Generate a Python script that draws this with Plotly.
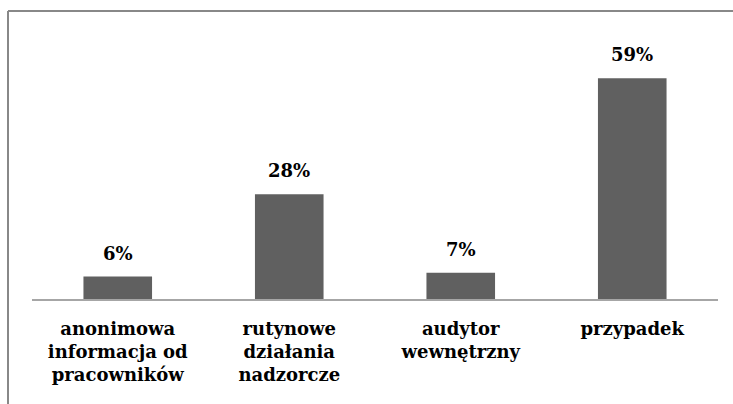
import plotly.graph_objects as go

categories = ["anonimowa<br>informacja od<br>pracowników", "rutynowe<br>działania<br>nadzorcze",
              "audytor<br>wewnętrzny", "przypadek"]
values = [6, 28, 7, 59]
value_labels = ["6%", "28%", "7%", "59%"]

W, H = 733, 404
L, R, T, B = 32, 15, 37, 105
FONT = "DejaVu Serif"

fig = go.Figure()
fig.add_trace(go.Bar(x=categories, y=values, marker=dict(color="#606060", line=dict(width=0)),
                     hoverinfo="skip"))

for c, v, t in zip(categories, values, value_labels):
    fig.add_annotation(x=c, y=v, text=f"<b>{t}</b>", showarrow=False, yanchor="bottom",
                       yshift=11, font=dict(family=FONT, size=18, color="#000000"))

pw = W - L - R
ph = H - T - B
# outer border (left and top)
fig.add_shape(type="line", xref="paper", yref="paper",
              x0=(8 - L) / pw, x1=(W + 5 - L) / pw, y0=(H - B - 11) / ph, y1=(H - B - 11) / ph,
              line=dict(color="#888888", width=2))
fig.add_shape(type="line", xref="paper", yref="paper",
              x0=(8 - L) / pw, x1=(8 - L) / pw, y0=(H - B - 11) / ph, y1=-(B + 5) / ph,
              line=dict(color="#888888", width=2))

fig.update_layout(
    width=W, height=H, margin=dict(l=L, r=R, t=T, b=B),
    paper_bgcolor="white", plot_bgcolor="white",
    bargap=0.6, showlegend=False,
    font=dict(family=FONT, size=18, color="#000000"),
    xaxis=dict(showline=True, linecolor="#a6a6a6", linewidth=2, ticks="", showgrid=False,
               tickfont=dict(family=FONT, size=18, color="#000000", weight="bold"),
               ticklabelstandoff=12, fixedrange=True),
    yaxis=dict(range=[0, 70], visible=False, showgrid=False, fixedrange=True),
)

fig.write_html("out.html")
